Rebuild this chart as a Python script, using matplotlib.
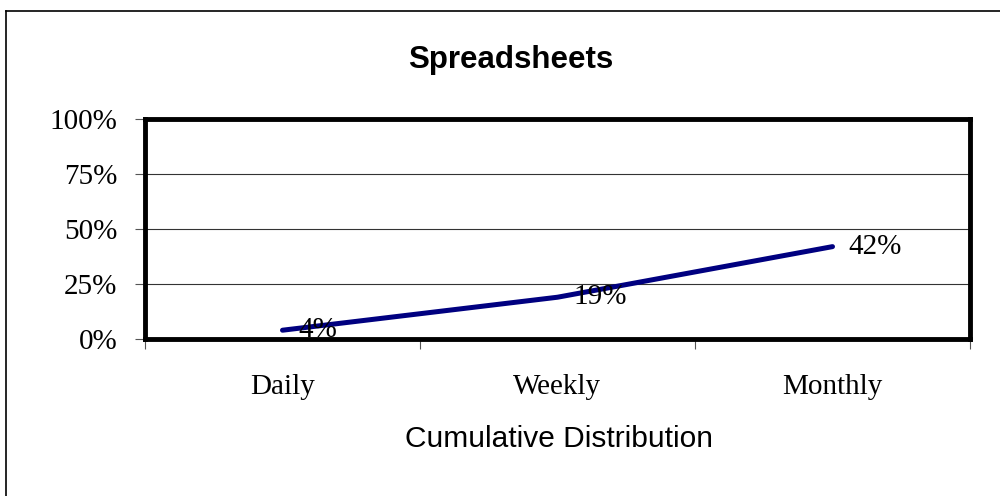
import matplotlib
matplotlib.use("Agg")
import matplotlib.pyplot as plt
from matplotlib.lines import Line2D

periods = ["Daily", "Weekly", "Monthly"]
share = [0.04, 0.19, 0.42]
point_labels = ["4%", "19%", "42%"]
ytick_vals = [0, 0.25, 0.5, 0.75, 1.0]
ytick_text = ["0%", "25%", "50%", "75%", "100%"]

serif = ["Liberation Serif", "DejaVu Serif"]
sans = ["Liberation Sans", "DejaVu Sans"]

fig = plt.figure(figsize=(10, 4.96), dpi=100)
ax = fig.add_axes([0.145, 0.3165, 0.825, 0.4435])

x = list(range(len(periods)))
ax.plot(x, share, color="#000080", linewidth=3.6, solid_capstyle="round", zorder=3)
for xi, v, t in zip(x, share, point_labels):
    ax.annotate(t, (xi, v), xytext=(11.5, 0), textcoords="offset points",
                ha="left", va="center", fontsize=21, family=serif, zorder=4)

ax.set_xlim(-0.5, 2.5)
ax.set_ylim(0, 1)

# category boundaries carry the tick marks, centres carry the labels
ax.set_xticks([-0.5, 0.5, 1.5, 2.5])
ax.set_xticklabels([])
ax.set_xticks(x, minor=True)
ax.set_xticklabels(periods, minor=True, fontsize=21, family=serif)
ax.tick_params(axis="x", which="major", direction="out", length=7, width=0.8, color="#555555")
ax.tick_params(axis="x", which="minor", length=0, pad=25)

ax.set_yticks(ytick_vals)
ax.set_yticklabels(ytick_text, fontsize=21, family=serif)
ax.tick_params(axis="y", direction="out", length=7, width=0.8, color="#555555", pad=13)

for v in ytick_vals[1:-1]:
    ax.axhline(v, color="#333333", linewidth=0.8, zorder=1)

for s in ax.spines.values():
    s.set_linewidth(3.5)
    s.set_color("black")

fig.text(0.511, 1 - 68 / 496, "Spreadsheets", ha="center", va="baseline",
         fontsize=22.5, fontweight="bold", family=sans)
fig.text(0.559, 1 - 447 / 496, "Cumulative Distribution", ha="center", va="baseline",
         fontsize=21.5, family=sans)

# outer chart frame (left and top edges visible)
fig.add_artist(Line2D([0.0055, 0.0055], [0, 1 - 11 / 496], color="black", linewidth=1.2,
                      transform=fig.transFigure))
fig.add_artist(Line2D([0.0055, 1], [1 - 11 / 496, 1 - 11 / 496], color="black", linewidth=1.2,
                      transform=fig.transFigure))

fig.savefig("out.png", dpi=100)
